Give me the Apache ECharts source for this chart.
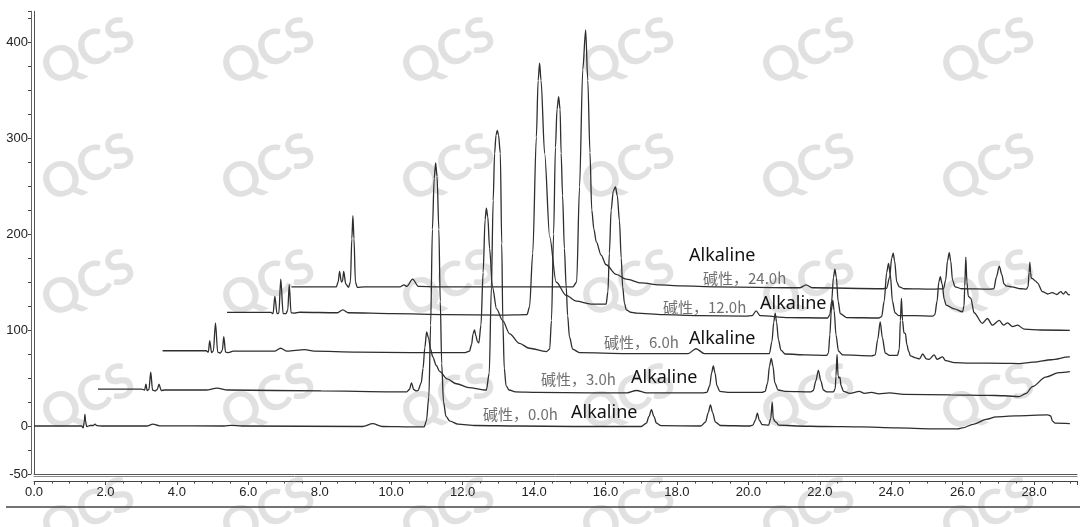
<!DOCTYPE html>
<html><head><meta charset="utf-8">
<script src="https://cdn.jsdelivr.net/npm/echarts@6/dist/echarts.min.js"></script>
<style>html,body{margin:0;padding:0;background:#fff}#c{width:1080px;height:527px}</style>
</head><body><div id="c"></div>
<script>
// ---- data (retention time in min, signal), as displayed with the stacked offsets ----
const trace0h = [[0,0],[1.0,0],[1.335,0],[1.376,-2],[1.406,4],[1.426,12],[1.446,4],[1.476,-0.5],[1.577,0.5],[1.658,0.5],[1.708,2],[1.758,0.3],[1.9,0],
[3.158,0],[3.329,2],[3.51,0.2],[5.323,0],[5.524,0.6],[5.827,0],[9.2,-0.5],[9.482,2.5],[9.754,-0.5],[10.56,-1],[10.922,-1],
[10.984,5],[11.054,30],[11.104,105],[11.154,205],[11.204,258],[11.244,274],[11.284,260],[11.334,205],[11.374,130],[11.414,65],[11.464,25],[11.534,10],[11.645,5],[11.868,2],[12.372,0.5],[13.58,0],[15.09,-0.5],[17.0,-0.5],
[17.146,3],[17.216,10],[17.286,17],[17.356,10],[17.426,3],[17.556,0.3],[18.666,0],
[18.798,4],[18.878,14],[18.938,22],[18.998,14],[19.078,4],[19.22,0.5],[20.025,0],
[20.126,1],[20.196,6],[20.251,13.5],[20.306,6],[20.386,1.5],[20.567,1],[20.627,8],[20.667,25],[20.697,8],[20.737,5],[20.777,4],[20.847,1],
[21.334,0],[22.14,-0.5],[23.147,-1],[24.154,-2],[25.161,-3],[25.866,-3],[25.987,-2],[26.319,2],[26.661,7],[26.934,9.5],[27.477,10.5],[28.383,11.5],[28.464,10.5],[28.514,5],[28.585,3],[29.0,2.5]];

const trace3h = [[1.79,38.5],[3.007,38.5],[3.098,37.5],[3.133,43.5],[3.168,37],[3.218,38],[3.268,56],[3.319,37.5],[3.389,36.5],[3.45,38],[3.5,43.5],[3.561,37],[3.661,37.5],[4.82,37.5],[5.122,39.5],[5.424,37.5],[8.042,36.5],[10.056,35.5],[10.438,35.5],[10.509,38],[10.569,45],[10.63,38],[10.7,36.5],[10.751,37],[10.841,45],[10.892,60],[10.942,82],[10.992,98],[11.043,92],[11.103,80],[11.164,72],[11.264,63],[11.355,57],[11.566,49],[11.828,44],[12.171,40],[12.664,37.5],
[12.745,55],[12.805,145],[12.855,235],[12.895,284],[12.935,303],[12.97,308],[13.005,303],[13.055,284],[13.095,190],[13.125,110],[13.166,60],[13.216,42],[13.297,37.5],[13.48,35.5],
[14.084,35],[15.594,34.5],[16.602,34.5],[16.863,37],[17.155,34.5],[18.716,34.5],[18.838,35],[18.918,42],[18.968,55],[19.018,62.5],[19.068,55],[19.119,42],[19.2,36],[19.421,35],[20.378,35],[20.468,36],[20.539,45],[20.589,62],[20.64,70.5],[20.69,62],[20.74,45],[20.831,37.5],[21.032,36],[21.737,35.5],[21.818,37],[21.888,47],[21.959,58],[22.029,47],[22.1,37.5],[22.19,35.5],[22.382,35.5],[22.432,39],[22.452,52],[22.482,74.5],[22.512,52],[22.533,50],[22.563,51],[22.593,42],[22.664,36],[22.845,34],[23.107,36],[23.248,34],[23.449,35],[23.651,33.5],[23.953,34.5],[24.356,33],[25.664,32.5],[26.671,32],[27.175,31.5],[27.578,30.5],[27.779,34],[27.951,41],[28.323,51],[28.695,55.5],[29.0,56.6]];

const trace6h = [[3.601,78.4],[4.82,78.4],[4.88,77],[4.92,89],[4.971,76.5],[5.021,78],[5.081,107.5],[5.142,77],[5.222,76],[5.273,79],[5.313,93],[5.363,77],[5.444,76.5],[5.575,78],[6.733,78],[6.904,81],[7.085,78],[7.579,79.5],[7.841,78],[9.049,77],[10.56,76.5],[12.07,76.5],[12.191,78],[12.251,85],[12.292,96],[12.332,100],[12.372,94],[12.412,88],[12.453,86.5],[12.513,105],[12.574,160],[12.629,215],[12.664,227],[12.704,218],[12.755,185],[12.835,145],[12.951,122],[13.117,110],[13.318,96],[13.59,86],[13.872,81],[14.346,77.5],
[14.437,80],[14.487,110],[14.547,200],[14.598,290],[14.643,330],[14.688,343],[14.728,330],[14.758,284],[14.798,240],[14.849,185],[14.899,145],[14.94,115],[14.99,93],[15.081,80],[15.272,76.5],[16.602,75.5],[18.313,75.5],[18.535,80.5],[18.767,75.5],[20.126,75.5],[20.589,75.5],[20.659,88],[20.71,108],[20.75,117.5],[20.79,108],[20.841,90],[20.911,79],[21.032,75],[21.637,74],[22.19,73.5],[22.241,76],[22.281,95],[22.321,120],[22.362,131],[22.402,120],[22.452,95],[22.523,78],[22.644,74],[23.449,73],[23.55,74],[23.62,90],[23.691,108.5],[23.751,92],[23.832,76],[23.953,73.5],[24.174,73.5],[24.225,80],[24.255,110],[24.285,133],[24.315,110],[24.355,97],[24.396,96.5],[24.436,85],[24.486,78],[24.537,73],[24.688,71],[24.789,70],[24.88,75],[24.98,70],[25.061,69.5],[25.202,74],[25.283,69.5],[25.434,72],[25.525,68],[25.767,66],[26.168,65.5],[27.175,65.3],[27.578,65],[27.981,66.5],[28.484,69],[28.977,72],[29.0,72.1]];

const trace12h = [[5.404,118.4],[6.632,118.4],[6.693,117],[6.743,135],[6.804,117],[6.854,117.5],[6.909,153],[6.975,117],[7.055,117],[7.105,121],[7.146,147.5],[7.196,118],[7.287,117.5],[7.438,118.5],[8.495,118],[8.646,121],[8.797,118],[10.056,117],[11.566,116],[13.077,115.5],[13.802,116],[13.873,124],[13.963,180],[14.064,301],[14.114,360],[14.155,378],[14.195,360],[14.296,284],[14.437,197],[14.618,150],[14.9,136],[15.182,130],[15.594,127],[16.017,127],[16.068,140],[16.108,180],[16.158,225],[16.219,245],[16.279,249],[16.33,240],[16.39,214],[16.44,175],[16.48,145],[16.531,128],[16.581,121],[16.702,118.5],[16.863,117.5],[17.608,116],[18.615,115],[19.925,114.5],[20.106,115],[20.217,120],[20.327,115],[21.133,113],[22.221,112.5],[22.281,116],[22.331,130],[22.382,155],[22.422,163.5],[22.462,155],[22.513,130],[22.573,117],[22.744,113],[23.651,112.5],[23.731,114],[23.802,130],[23.872,160],[23.923,169.5],[23.973,158],[24.033,130],[24.104,118],[24.205,115],[24.658,115],[25.161,114.5],[25.221,116],[25.282,130],[25.332,150],[25.372,155.5],[25.423,148],[25.483,132],[25.534,126],[25.765,122],[25.997,119],[26.037,125],[26.057,145],[26.087,176],[26.118,150],[26.158,135],[26.228,133],[26.319,118],[26.55,107],[26.691,112],[26.832,105],[27.023,110],[27.144,105],[27.255,107.5],[27.396,103.5],[27.537,105],[27.718,101],[28.182,100],[29.0,99.6]];

const trace24h = [[7.206,145],[8.465,145],[8.515,150],[8.555,161],[8.606,150],[8.636,151],[8.671,161],[8.727,148],[8.807,144.5],[8.858,150],[8.898,195],[8.928,219],[8.958,195],[8.999,150],[9.049,144.5],[9.25,145],[10.257,145],[10.358,147],[10.438,145.5],[10.6,153],[10.761,145.5],[11.264,145],[15.091,145],[15.192,150],[15.273,249],[15.363,371],[15.444,412.5],[15.504,360],[15.565,285],[15.615,225],[15.675,205],[15.741,192],[15.877,178],[16.017,168],[16.299,158],[16.581,153],[17.004,149],[17.508,147],[18.112,146],[19.119,145],[21.435,144],[21.616,147],[21.787,144],[23.751,143],[23.872,143.5],[23.953,155],[24.013,175],[24.054,180],[24.094,172],[24.154,150],[24.225,145],[24.356,143],[25.161,142.5],[25.463,143],[25.523,152],[25.574,172],[25.624,180.5],[25.664,172],[25.715,152],[25.785,145],[25.967,143],[26.772,142.5],[26.873,143],[26.943,155],[27.024,166.5],[27.094,158],[27.155,148],[27.215,146],[27.376,145],[27.628,143],[27.779,142.5],[27.829,145],[27.86,160],[27.88,170.5],[27.9,160],[27.92,154],[27.95,153.5],[28.041,151],[28.092,149],[28.233,140],[28.384,137.5],[28.505,139],[28.636,137],[28.747,140],[28.817,137.5],[28.888,140],[28.95,137],[29.0,136.5]];

const traceNames = ['碱性，0.0h', '碱性，3.0h', '碱性，6.0h', '碱性，12.0h', '碱性，24.0h'];
const englishLabel = 'Alkaline';
const yTickLabels = [-50, 0, 100, 200, 300, 400];
const watermarkText = 'QCS';

// ---- layout / style ----
const traces = [trace0h, trace3h, trace6h, trace12h, trace24h];
const annotLayout = [
  {cn: [483, 414], en: [571, 413]},
  {cn: [541, 379], en: [631, 378]},
  {cn: [604, 342], en: [689, 339]},
  {cn: [663, 307], en: [760, 304]},
  {cn: [703, 278], en: [689, 256]}
];
const axisFont = "'Liberation Sans Narrow','Liberation Sans',Arial,sans-serif";
const wmCols = [88, 268, 448, 628, 808, 988];
const wmRows = [52, 168, 284, 398, 512];

const graphic = [];
wmRows.forEach(y => wmCols.forEach(x => {
  graphic.push({type: 'text', x: x, y: y, rotation: 0.44, z: -5, silent: true,
    style: {text: watermarkText, fill: '#e1e1e1', font: "bold 48px Lato, 'Open Sans', sans-serif", align: 'center', verticalAlign: 'middle'}});
}));
traceNames.forEach((name, i) => {
  const L = annotLayout[i];
  graphic.push({type: 'text', x: L.cn[0], y: L.cn[1], z: 50,
    style: {text: name, fill: '#707070', font: "15px 'Noto Sans CJK SC', sans-serif", align: 'left', verticalAlign: 'middle'}});
  graphic.push({type: 'text', x: L.en[0], y: L.en[1], z: 50,
    style: {text: englishLabel, fill: '#111', font: "18px 'Noto Sans', 'Open Sans', sans-serif", align: 'left', verticalAlign: 'middle'}});
});
graphic.push({type: 'line', z: 50, shape: {x1: 6, y1: 507, x2: 1080, y2: 507}, style: {stroke: '#444', lineWidth: 1.5}});

const xMin = 0, xMax = 29.2, yMin = -50, yMax = 432;
const chart = echarts.init(document.getElementById('c'));
chart.setOption({
  animation: false,
  backgroundColor: '#fff',
  grid: {left: 34, right: 2, top: 11.3, bottom: 53},
  xAxis: [
    {type: 'value', min: xMin, max: xMax, position: 'bottom', axisLine: {show: true, onZero: false, lineStyle: {color: '#555', width: 1}}, axisTick: {show: false}, axisLabel: {show: false}, splitLine: {show: false}},
    {type: 'value', min: xMin, max: xMax, position: 'bottom', offset: 2, axisLine: {show: true, onZero: false, lineStyle: {color: '#888', width: 1}}, axisTick: {show: false}, axisLabel: {show: false}, splitLine: {show: false}},
    {type: 'value', min: xMin, max: xMax, interval: 2, position: 'bottom', offset: 7,
      axisLine: {show: true, onZero: false, lineStyle: {color: '#444', width: 1}},
      axisTick: {show: true, length: 4, lineStyle: {color: '#444'}},
      minorTick: {show: true, splitNumber: 4, length: 2.5, lineStyle: {color: '#444'}},
      axisLabel: {margin: 5, color: '#222', fontSize: 13, fontFamily: axisFont, formatter: v => (Math.abs(v % 2) < 1e-9 ? v.toFixed(1) : '')},
      splitLine: {show: false}}
  ],
  yAxis: [
    {type: 'value', min: yMin, max: yMax, position: 'left', axisLine: {show: true, onZero: false, lineStyle: {color: '#555', width: 1}}, axisTick: {show: false}, axisLabel: {show: false}, splitLine: {show: false}},
    {type: 'value', min: yMin, max: yMax, interval: 25, position: 'left', offset: 3,
      axisLine: {show: true, onZero: false, lineStyle: {color: '#666', width: 1}},
      axisTick: {show: true, length: 3, lineStyle: {color: '#444'}},
      axisLabel: {margin: 3, color: '#222', fontSize: 13, fontFamily: axisFont, formatter: v => (yTickLabels.includes(v) ? String(v) : '')},
      splitLine: {show: false}}
  ],
  graphic: graphic,
  series: traces.map((d, i) => ({
    name: traceNames[i], type: 'line', data: d, xAxisIndex: 0, yAxisIndex: 0,
    showSymbol: false, symbol: 'none', smooth: 0.3, smoothMonotone: 'x', z: 5,
    lineStyle: {color: '#2e2e2e', width: 1.3}
  }))
});
</script></body></html>
